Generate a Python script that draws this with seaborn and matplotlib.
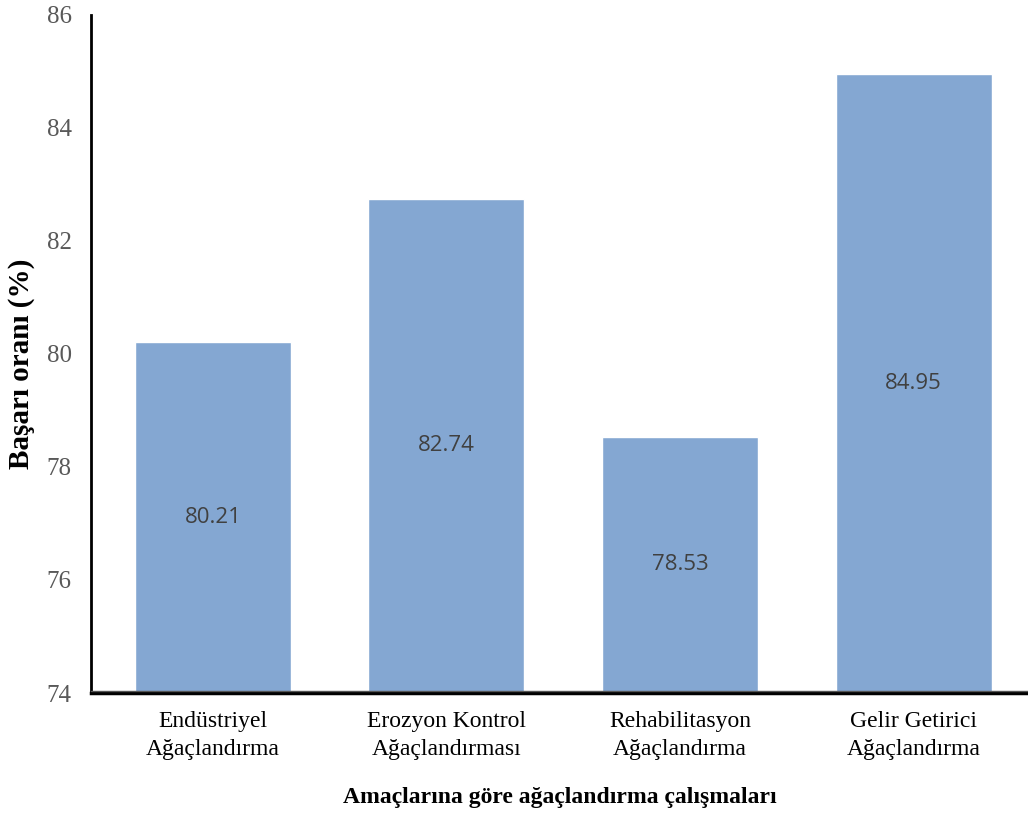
import matplotlib
matplotlib.use("Agg")
import matplotlib.pyplot as plt
import seaborn as sns
import pandas as pd

categories = ["Endüstriyel\nAğaçlandırma", "Erozyon Kontrol\nAğaçlandırması",
              "Rehabilitasyon\nAğaçlandırma", "Gelir Getirici\nAğaçlandırma"]
values = [80.21, 82.74, 78.53, 84.95]
yticks = [74, 76, 78, 80, 82, 84, 86]

sns.set_theme(style="white")
plt.rcParams['font.family'] = ['Liberation Serif', 'DejaVu Serif']
plt.rcParams['text.color'] = 'black'
plt.rcParams['axes.labelcolor'] = 'black'

df = pd.DataFrame({"cat": categories, "val": values})

fig = plt.figure(figsize=(10.28, 8.14), dpi=100)
ax = fig.add_axes([0.0885, 0.1486, 0.9115, 0.8335])

sns.barplot(data=df, x="cat", y="val", color="#84A7D2", saturation=1,
            width=0.668, ax=ax, zorder=2)

ax.set_ylim(74, 86)
ax.set_xlim(-0.522, 3.49)
ax.set_yticks(yticks)
ax.set_yticklabels([str(t) for t in yticks], color="#595959", fontsize=18)
ax.set_xticks(range(len(categories)))
ax.set_xticklabels(categories, fontsize=17, color="black", linespacing=1.45)
ax.tick_params(axis="x", length=0, pad=13)
ax.tick_params(axis="y", length=0, pad=14)

for i, v in enumerate(values):
    ax.text(i, (74 + v) / 2, f"{v:.2f}", ha="center", va="center",
            fontsize=16, color="#404040", family=["Open Sans", "DejaVu Sans"])

for s in ["top", "right"]:
    ax.spines[s].set_visible(False)
ax.spines["left"].set_color("black")
ax.spines["left"].set_linewidth(2)
ax.spines["bottom"].set_color("black")
ax.spines["bottom"].set_linewidth(2.5)
ax.axhline(74.04, color="#555555", lw=1, zorder=3, clip_on=False)

ax.set_xlabel("Amaçlarına göre ağaçlandırma çalışmaları", fontsize=17,
              fontweight="bold", labelpad=20, color="black")
ax.set_ylabel("Başarı oranı (%)", fontsize=21, fontweight="bold", color="black")
ax.yaxis.set_label_coords(-0.060, 0.485)
ax.xaxis.set_label_coords(0.5, -0.138)

fig.savefig("out.png", dpi=100)
